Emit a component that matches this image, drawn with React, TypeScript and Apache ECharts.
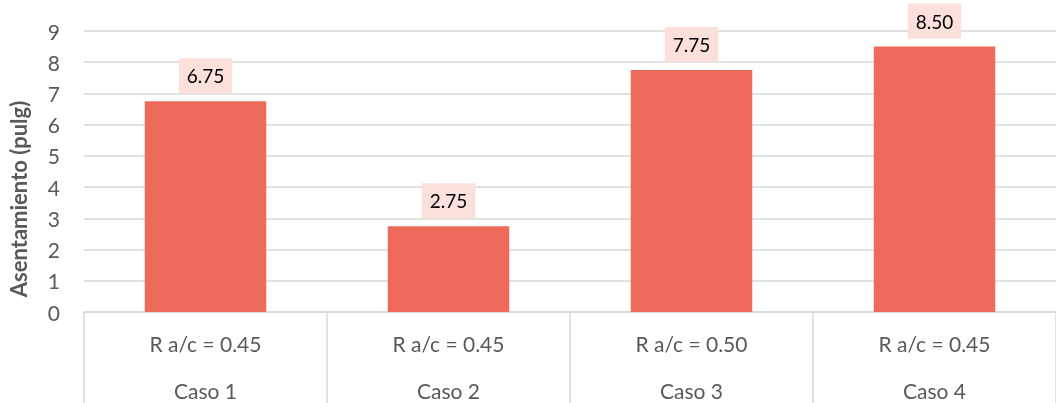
import React, { useEffect, useRef } from "react";
import * as echarts from "echarts";

const categories = ["Caso 1", "Caso 2", "Caso 3", "Caso 4"];
const ratios = ["R a/c = 0.45", "R a/c = 0.45", "R a/c = 0.50", "R a/c = 0.45"];
const values = [6.75, 2.75, 7.75, 8.5];
const yTitle = "Asentamiento (pulg)";

export default function App() {
  const ref = useRef<HTMLDivElement>(null);
  useEffect(() => {
    if (!ref.current) return;
    const chart = echarts.init(ref.current, null, { renderer: "svg" });
    const font = "Lato, 'Open Sans', sans-serif";
    const labelBase = { fontFamily: font, fontSize: 21, lineHeight: 21, color: "#595959", interval: 0 };
    chart.setOption({
      animation: false,
      grid: { left: 84, right: 0, top: 31, bottom: 91, containLabel: false },
      graphic: [
        {
          type: "text",
          x: 18,
          y: 199,
          rotation: Math.PI / 2,
          style: {
            text: yTitle,
            fontFamily: font,
            fontSize: 22,
            fontWeight: "bold",
            fill: "#595959",
            align: "center",
            verticalAlign: "middle",
          },
        },
      ],
      xAxis: [
        {
          type: "category",
          data: ratios,
          axisLine: { lineStyle: { color: "#d9d9d9", width: 1.5 } },
          axisTick: { show: true, length: 91, lineStyle: { color: "#d9d9d9", width: 1.5 } },
          axisLabel: { ...labelBase, margin: 21 },
        },
        {
          type: "category",
          data: categories,
          position: "bottom",
          axisLine: { show: false },
          axisTick: { show: false },
          axisLabel: { ...labelBase, margin: 68 },
        },
      ],
      yAxis: {
        type: "value",
        min: 0,
        max: 9,
        interval: 1,
        axisLine: { show: false },
        axisTick: { show: false },
        splitLine: { lineStyle: { color: "#d9d9d9", width: 1.5 } },
        axisLabel: { margin: 24, fontFamily: font, fontSize: 21, color: "#595959" },
      },
      series: [
        {
          type: "bar",
          data: values,
          barWidth: "50%",
          itemStyle: { color: "#EE6A5B" },
          label: {
            show: true,
            position: "top",
            distance: 8,
            formatter: (p: any) => p.value.toFixed(2),
            fontFamily: font,
            fontSize: 19,
            color: "#000",
            backgroundColor: "#FBE0DC",
            padding: [8, 8],
          },
        },
      ],
    });
    return () => chart.dispose();
  }, []);
  return (
    <div
      ref={ref}
      style={{ position: "fixed", left: 0, top: 0, width: 1056, height: 403 }}
    />
  );
}
